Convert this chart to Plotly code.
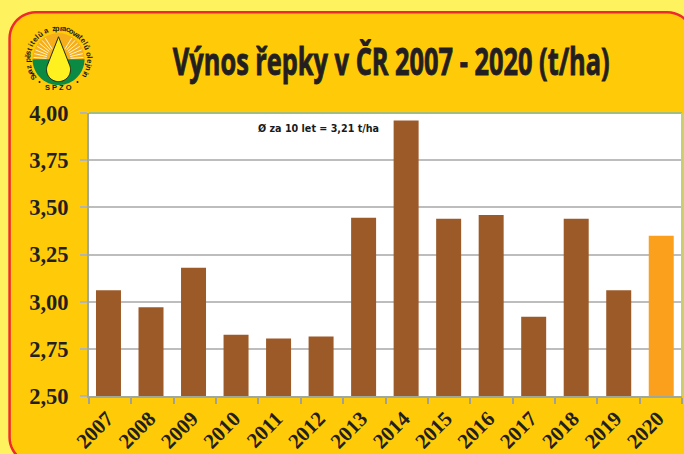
import math
import plotly.graph_objects as go

years = ["2007","2008","2009","2010","2011","2012","2013","2014","2015","2016","2017","2018","2019","2020"]
yields = [3.06,2.97,3.18,2.825,2.805,2.815,3.445,3.96,3.44,3.46,2.92,3.44,3.06,3.35]
bar_colors = ["#9C5A28"]*13 + ["#FBA01C"]
y_ticks = [2.5,2.75,3.0,3.25,3.5,3.75,4.0]
y_labels = ["2,50","2,75","3,00","3,25","3,50","3,75","4,00"]

W, H = 684, 454
L, R, T, B = 89, 682.5, 112.5, 396.5
px = lambda x: (x - L) / (R - L)
py = lambda y: (B - y) / (B - T)

shapes = []
def S(**k):
    k.setdefault("xref", "paper"); k.setdefault("yref", "paper"); k.setdefault("layer", "below")
    shapes.append(k)

def path(points, close=True):
    return "M " + " L ".join(f"{px(x):.5f},{py(y):.5f}" for x, y in points) + (" Z" if close else "")

# panel with rounded corners
r = 26
x0, y0 = 9.5, 11.5
pts = []
for i in range(13):
    a = math.pi + i/12*math.pi/2
    pts.append((x0+r+r*math.cos(a), y0+r+r*math.sin(a)))
for i in range(13):
    a = -math.pi/2 + i/12*math.pi/2
    pts.append((694-r+r*math.cos(a), y0+r+r*math.sin(a)))
pts += [(700, 500), (60, 500)]
for i in range(13):
    a = math.pi/2 + i/12*math.pi/2
    pts.append((x0+r+r*math.cos(a), 464-r+r*math.sin(a)))
S(type="path", path=path(pts), fillcolor="#FFCB08", line=dict(color="#EE2A2E", width=2.5))
S(type="rect", x0=0, x1=1, y0=0, y1=1, fillcolor="#FFFFFF", line=dict(width=0))

# logo
cx, cy = 58.5, 58.5
Rl = 26
arc = lambda a0, a1, rad, n=40: [(cx+rad*math.cos(a0+(a1-a0)*i/n), cy+rad*math.sin(a0+(a1-a0)*i/n)) for i in range(n+1)]
S(type="path", path=path(arc(math.pi, 2*math.pi, Rl)), fillcolor="#F7AE1B", line=dict(width=0))
S(type="path", path=path(arc(0, math.pi, Rl)), fillcolor="#0B8A43", line=dict(width=0))
for deg in [184,193,202,211,220,229,238,302,311,320,329,338,347,356]:
    a = math.radians(deg)
    S(type="line", x0=px(cx+12*math.cos(a)), y0=py(cy+12*math.sin(a)), x1=px(cx+25*math.cos(a)), y1=py(cy+25*math.sin(a)),
      line=dict(color="#FFF6D8", width=1))
drop = []
dc_y, dr = 69, 12
drop.append((cx, 36))
for i in range(0, 41):
    a = math.radians(-22 + i*(224/40))
    drop.append((cx+dr*math.cos(a), dc_y+dr*math.sin(a)))
S(type="path", path=path(drop), fillcolor="#FFF01F", line=dict(color="#1E2A1A", width=1))

ann = []
ring = "Svaz pěstitelů a zpracovatelů olejnin"
start, end = -126, 122
Rt = 31
for i, ch in enumerate(ring):
    deg = start + (end-start)*i/(len(ring)-1)
    a = math.radians(deg)
    ann.append(dict(x=px(cx+Rt*math.sin(a)), y=py(cy-Rt*math.cos(a)), xref="paper", yref="paper", text=f"<b>{ch}</b>", showarrow=False,
                    textangle=deg, xanchor="center", yanchor="middle",
                    font=dict(family="Liberation Sans", size=7.5, color="#1a1a1a")))
ann.append(dict(x=px(cx), y=py(87), xref="paper", yref="paper", text="<b>S P Z O</b>", showarrow=False, xanchor="center", yanchor="middle",
                font=dict(family="Liberation Sans", size=7.5, color="#1a1a1a")))
for dx in (-19, 19):
    S(type="circle", x0=px(cx+dx-1), x1=px(cx+dx+1), y0=py(81.5-1), y1=py(81.5+1), fillcolor="#1a1a1a", line=dict(width=0))

# title and note
ann.append(dict(x=px(391.5), y=py(59), xref="paper", yref="paper", text="<b>Výnos řepky v ČR 2007 - 2020 (t/ha)</b>", showarrow=False,
                xanchor="center", yanchor="middle", font=dict(family="Open Sans", size=38, color="#231F20")))
ann.append(dict(x=px(319), y=py(128), xref="paper", yref="paper", text="<b>Ø za 10 let = 3,21 t/ha</b>", showarrow=False,
                xanchor="center", yanchor="middle", font=dict(family="DejaVu Sans", size=9.6, color="#1a1a1a")))

# top/right plot border
S(type="line", x0=0, x1=1, y0=1, y1=1, line=dict(color="#A3BD7C", width=2), layer="above")
S(type="line", x0=1, x1=1, y0=0, y1=1, line=dict(color="#C9CF6A", width=2), layer="above")

offsets = [-0.335 + 0.05*i/13 for i in range(len(years))]
fig = go.Figure(go.Bar(x=years, y=yields, marker=dict(color=bar_colors, line=dict(width=0)), width=0.59, offset=offsets))
fig.update_layout(
    width=W, height=H, margin=dict(l=L, r=W-R, t=T, b=H-B, pad=0),
    paper_bgcolor="#FFF25F", plot_bgcolor="#FFFFFF", showlegend=False,
    shapes=shapes, annotations=ann,
)
fig.update_xaxes(type="category", tickson="boundaries", ticks="outside", ticklen=6, tickcolor="#A0A09A", tickwidth=1.5,
                 showline=True, linecolor="#A0A89A", linewidth=2, showgrid=False, tickangle=-45, ticklabelshift=-3,
                 tickfont=dict(family="Liberation Serif", size=21, color="#231F20", weight="bold"))
fig.update_yaxes(range=[2.5,4.0], tickvals=y_ticks, ticktext=y_labels, ticks="outside", ticklen=7, tickcolor="#B5B5B0", tickwidth=2,
                 showline=True, linecolor="#A0A89A", linewidth=2, gridcolor="#BDBDBD", gridwidth=2, zeroline=False,
                 ticklabelstandoff=7,
                 tickfont=dict(family="Liberation Serif", size=22.5, color="#231F20", weight="bold"))
post = """
document.body.style.margin='0';document.body.style.background='#FFF25F';document.body.style.overflow='hidden';
document.querySelectorAll('.annotation-text').forEach(function(t){
  if(t.textContent.indexOf('Výnos')===0){
    var b=t.getBBox(), c=b.x+b.width/2, s=437/b.width, e=t.getAttribute('transform')||'';
    t.setAttribute('transform', e+' translate('+c+' 0) scale('+s+' 1) translate('+(-c)+' 0)');
    t.style.stroke='#231F20'; t.style.strokeWidth='0.9px';
  }
});
"""
fig.write_html("out.html", config=dict(displayModeBar=False), post_script=post)
